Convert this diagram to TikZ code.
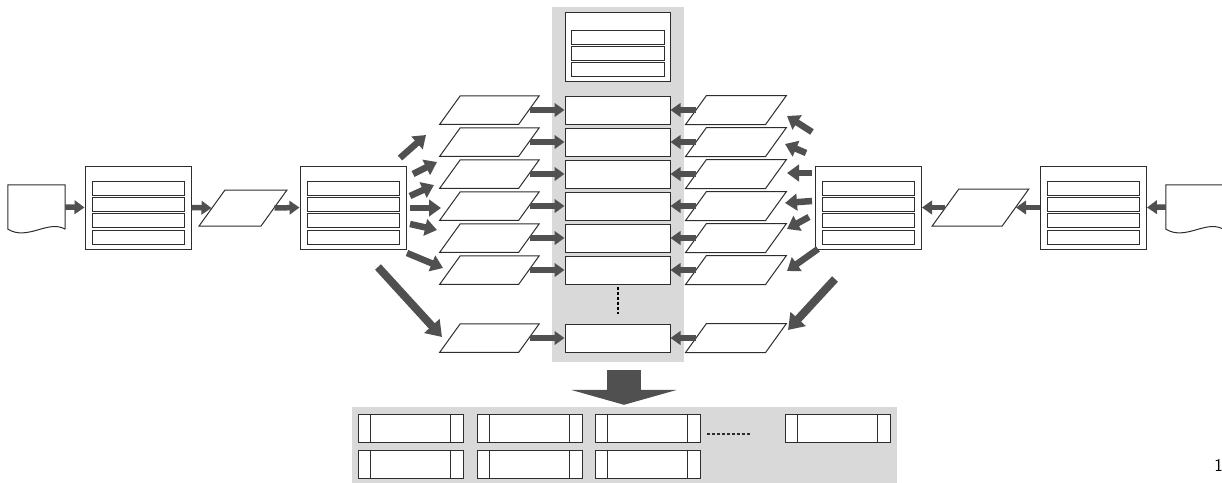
\documentclass[tikz,border=0pt]{standalone}
\usetikzlibrary{arrows.meta}
\usetikzlibrary{positioning}
\usetikzlibrary{calc}
\definecolor{panelgray}{RGB}{217,217,217}
\definecolor{arrowgray}{RGB}{80,80,80}
\definecolor{linegray}{RGB}{45,45,45}
\begin{document}
\begin{tikzpicture}[x=1pt,y=-1pt]
  \tikzset{
    box/.style={draw=linegray,line width=1pt,fill=white,inner sep=0pt},
    bigbox/.style={box,minimum width=106pt,minimum height=83pt},
    rowbox/.style={box,minimum width=92pt,minimum height=14pt},
    cell/.style={box,minimum width=105pt,minimum height=28pt},
    para/.style={box,transform shape,xslant=0.72},
    fat/.style={arrowgray,line width=5.5pt,-{Triangle[length=10pt,width=13.5pt]}},
    fan/.style={arrowgray,line width=6.5pt,-{Triangle[length=12pt,width=16.5pt]}},
    longfan/.style={arrowgray,line width=8pt,-{Triangle[length=15pt,width=20pt]}},
  }
  %BOUNDING BOX
  \useasboundingbox (0,0) rectangle (1222,482);
  %GRAY PANELS
  \node[fill=panelgray,minimum width=132pt,minimum height=355pt,inner sep=0] (col) at (618,184.5) {};
  \node[fill=panelgray,minimum width=545pt,minimum height=76pt,inner sep=0] (out) at (624.5,445) {};
  %TOP BOX
  \node[box,minimum width=105pt,minimum height=69pt] (T) at (617.5,46.5) {};
  \foreach \r in {1,2,3}{
    \node[rowbox,minimum width=93pt] (T-\r) at ($(T.north)+(0,10+16*\r)$) {};
  }
  %BIG BOXES
  \foreach \x [count=\i] in {138,353,868.5,1093.5}{
    \node[bigbox] (B\i) at (\x,207.5) {};
    \foreach \r in {1,...,4}{
      \node[rowbox] (B\i-\r) at ($(B\i.north)+(0,6.8+16.2*\r)$) {};
    }
  }
  %DOCUMENTS
  \foreach \x [count=\i] in {36.5,1194.5}{
    \node[minimum width=57pt,minimum height=44pt,inner sep=0] (D\i) at (\x,207) {};
    \draw[box] (D\i.south east) -- (D\i.north east) -- (D\i.north west) -- (D\i.south west)
      .. controls +(20,12) and +(-17,-10) .. (D\i.south east);
  }
  %SINGLE PARALLELOGRAMS
  \node[para,minimum width=62pt,minimum height=36pt] (P1) at (243,208) {};
  \node[para,minimum width=70pt,minimum height=37pt] (P2) at (980.5,207.5) {};
  %CHAIN ARROWS
  \draw[fat] (D1.east) -- (B1.west);
  \draw[fat] (B1.east) -- (P1.west);
  \draw[fat] (P1.east) -- (B2.west);
  \draw[fat] (D2.west) -- (B4.east);
  \draw[fat] (B4.west) -- (P2.east);
  \draw[fat] (P2.west) -- (B3.east);
  %ROWS AND PARALLELOGRAMS
  \foreach \y [count=\i] in {110,142,174,206,238,270,338}{
    \node[cell] (C\i) at (617.5,\y) {};
    \node[para,minimum width=79pt,minimum height=28.5pt] (L\i) at (489.5,\y) {};
    \node[para,minimum width=80pt,minimum height=29pt] (R\i) at (736,\y) {};
    \draw[fat] (L\i.east) -- (C\i.west);
    \draw[fat] (R\i.west) -- (C\i.east);
  }
  %DOTS
  \draw[black,line width=2pt,dash pattern=on 3pt off 2pt] ($(C6.south)+(0.5,2)$) -- ($(C7.north)+(0.5,-10)$);
  %FAN LEFT
  \foreach \tx/\ty/\hx/\hy [count=\i] in {400/158/426/135,413/174/437/162,410/196/434/185,410/208/441/208,410/224/437/230,407/253/443/268}{
    \coordinate (lt\i) at (\tx,\ty);
    \coordinate (lh\i) at (\hx,\hy);
    \draw[fan] (lt\i) -- (lh\i);
  }
  \coordinate (lt7) at (378,267);
  \coordinate (lh7) at (442,337);
  \draw[longfan] (lt7) -- (lh7);
  %FAN RIGHT
  \foreach \tx/\ty/\hx/\hy [count=\i] in {812/132/787/116,806/153/785/144,812/173/787/173,812/201/785/203,809/217/787/229,818/249/787/271}{
    \coordinate (rt\i) at (\tx,\ty);
    \coordinate (rh\i) at (\hx,\hy);
    \draw[fan] (rt\i) -- (rh\i);
  }
  \coordinate (rt7) at (835,279);
  \coordinate (rh7) at (788,330);
  \draw[longfan] (rt7) -- (rh7);
  %BIG ARROW
  \draw[arrowgray,line width=34pt,-{Triangle[length=15pt,width=106pt]}] ($(col.south)+(6,8)$) -- ($(out.north)+(-0.5,-2)$);
  %OUTPUT CELLS
  \foreach \x/\y [count=\i] in {410.5/428,529.5/428,647.5/428,837.5/428,410.5/464,529.5/464,647.5/464}{
    \node[cell] (O\i) at (\x,\y) {};
    \draw[linegray,line width=1pt] ($(O\i.north west)+(13,0)$) -- ($(O\i.south west)+(13,0)$);
    \draw[linegray,line width=1pt] ($(O\i.north east)+(-13,0)$) -- ($(O\i.south east)+(-13,0)$);
  }
  \draw[linegray,line width=1.4pt,dash pattern=on 3pt off 2pt] ($(O3.east)+(6,6)$) -- ($(O4.west)+(-35,6)$);
  %PAGE NUMBER
  \node[anchor=base east,inner sep=0,font=\sffamily\fontsize{18}{21}\selectfont] (pg) at (1223,471) {1};
\end{tikzpicture}
\end{document}
